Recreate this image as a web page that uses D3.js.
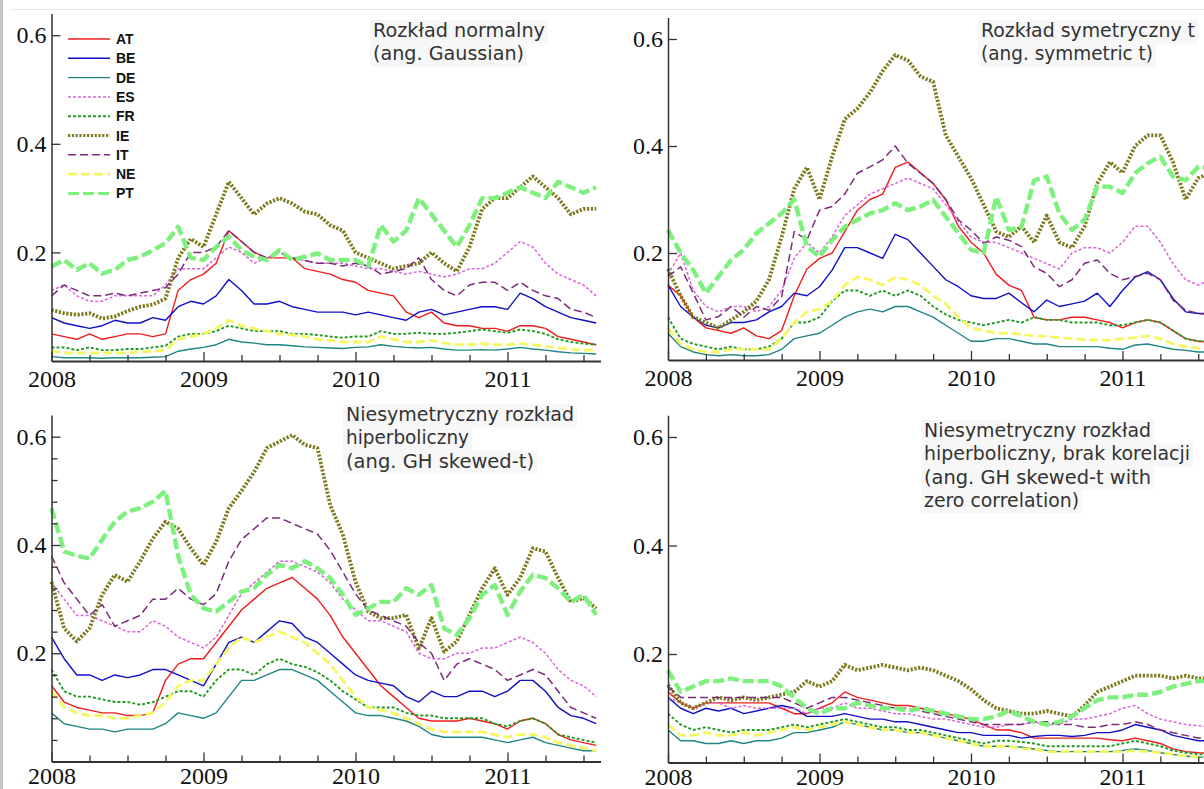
<!DOCTYPE html>
<html>
<head>
<meta charset="utf-8">
<script src="https://cdn.jsdelivr.net/npm/d3@7"></script>
<style>
  body { margin: 0; background: #fff; }
  svg { display: block; }
</style>
</head>
<body>
<svg id="chart" width="1204" height="789"></svg>
<script>
// Country codes in legend order
const countries = ["AT", "BE", "DE", "ES", "FR", "IE", "IT", "NE", "PT"];
const yearTicks = [2008, 2009, 2010, 2011];
const quarterTicks = [2008.25, 2008.5, 2008.75, 2009.25, 2009.5, 2009.75, 2010.25, 2010.5, 2010.75, 2011.25, 2011.5, 2011.75];
const valueTicks = [0.2, 0.4, 0.6];
const minorValueTicks = [0.04, 0.08, 0.12, 0.16, 0.24, 0.28, 0.32, 0.36, 0.44, 0.48, 0.52, 0.56];
const startYear = 2008;   // monthly observations, Jan 2008 – Aug 2011

// ---- Gaussian ----
const gaussAT = [.05,.045,.04,.05,.04,.045,.05,.05,.045,.05,.13,.15, .16,.18,.24,.22,.2,.19,.19,.19,.17,.165,.16,.15, .145,.13,.125,.12,.09,.08,.09,.07,.065,.065,.06,.06, .055,.065,.065,.06,.045,.04,.035,.03];
const gaussBE = [.08,.07,.065,.06,.065,.075,.07,.07,.08,.075,.1,.11, .105,.12,.15,.13,.105,.105,.11,.1,.095,.09,.09,.09, .085,.09,.085,.08,.075,.09,.095,.085,.09,.095,.1,.1, .095,.125,.115,.1,.09,.08,.075,.07];
const gaussDE = [.008,.006,.006,.006,.005,.006,.006,.006,.007,.008,.018,.022, .025,.03,.04,.035,.033,.03,.03,.028,.026,.025,.024,.023, .025,.026,.03,.027,.025,.024,.025,.022,.02,.02,.021,.02, .022,.025,.022,.02,.017,.015,.014,.013];
const gaussES = [.13,.14,.12,.11,.11,.12,.12,.12,.12,.14,.17,.17, .17,.19,.21,.2,.18,.19,.2,.19,.185,.18,.18,.18, .175,.17,.17,.165,.16,.165,.16,.155,.16,.17,.17,.18, .2,.22,.21,.18,.16,.15,.14,.12];
const gaussFR = [.025,.025,.02,.025,.02,.02,.022,.022,.025,.028,.045,.05, .05,.055,.065,.06,.055,.055,.055,.05,.05,.048,.045,.043, .045,.045,.055,.05,.05,.052,.05,.05,.052,.055,.058,.055, .052,.058,.055,.05,.04,.035,.032,.03];
const gaussIE = [.094,.088,.085,.088,.078,.082,.092,.1,.104,.115,.19,.225, .21,.27,.33,.3,.27,.29,.3,.29,.275,.27,.25,.24, .2,.19,.18,.17,.175,.18,.2,.18,.165,.21,.28,.3, .3,.32,.34,.32,.3,.27,.28,.28];
const gaussIT = [.12,.14,.13,.12,.12,.125,.12,.125,.13,.135,.16,.2, .2,.21,.24,.22,.2,.19,.2,.19,.185,.18,.18,.175, .18,.175,.16,.165,.17,.19,.15,.13,.12,.14,.145,.145, .13,.145,.13,.12,.115,.095,.09,.08];
const gaussNE = [.018,.015,.015,.015,.015,.015,.015,.017,.018,.02,.04,.045, .05,.06,.075,.065,.06,.055,.05,.048,.045,.04,.038,.035, .035,.035,.045,.04,.035,.035,.038,.033,.03,.03,.032,.03, .03,.032,.03,.027,.024,.022,.02,.02];
const gaussPT = [.174,.186,.168,.18,.161,.168,.186,.192,.204,.217,.247,.19, .186,.21,.229,.204,.192,.186,.204,.186,.192,.198,.186,.186, .186,.174,.25,.22,.24,.3,.27,.24,.21,.25,.3,.3, .31,.32,.31,.3,.33,.32,.31,.32];

// ---- Symmetric t ----
const symAT = [.14,.12,.08,.06,.055,.05,.06,.045,.04,.055,.12,.17, .19,.2,.24,.28,.3,.31,.36,.37,.35,.33,.3,.25, .22,.2,.16,.14,.13,.08,.075,.075,.08,.08,.075,.07, .06,.07,.075,.07,.055,.04,.035,.033];
const symBE = [.14,.1,.08,.065,.06,.07,.07,.075,.09,.1,.125,.12, .137,.168,.21,.21,.2,.19,.235,.225,.2,.175,.15,.137, .12,.115,.115,.125,.107,.09,.112,.1,.105,.11,.125,.1, .13,.155,.165,.15,.115,.09,.087,.087];
const symDE = [.05,.025,.015,.01,.008,.01,.008,.008,.01,.02,.04,.045, .05,.065,.08,.09,.095,.09,.1,.1,.09,.08,.065,.05, .035,.035,.04,.04,.035,.03,.03,.025,.025,.025,.025,.022, .02,.028,.03,.025,.02,.018,.015,.015];
const symES = [.16,.2,.13,.1,.09,.1,.1,.09,.1,.13,.19,.22, .2,.23,.27,.29,.31,.32,.33,.34,.33,.32,.29,.26, .23,.22,.22,.21,.2,.19,.18,.17,.2,.21,.21,.2, .22,.25,.25,.22,.18,.15,.14,.15];
const symFR = [.08,.04,.03,.025,.02,.025,.02,.02,.025,.04,.07,.07, .08,.11,.13,.13,.12,.13,.12,.13,.12,.1,.085,.075, .07,.065,.07,.075,.07,.08,.075,.075,.07,.07,.07,.065, .065,.07,.075,.07,.055,.04,.035,.035];
const symIE = [.17,.12,.08,.07,.06,.075,.09,.11,.15,.23,.32,.36, .3,.38,.45,.47,.5,.54,.57,.56,.53,.52,.42,.38, .34,.29,.24,.23,.25,.22,.27,.22,.21,.25,.33,.37, .35,.4,.42,.42,.37,.3,.34,.35];
const symIT = [.156,.174,.125,.075,.081,.1,.08,.1,.093,.118,.24,.224, .28,.287,.31,.349,.361,.374,.4,.368,.349,.33,.3,.262, .243,.218,.23,.224,.212,.174,.162,.137,.15,.181,.187,.162, .15,.156,.162,.15,.112,.093,.087,.085];
const symNE = [.06,.03,.02,.015,.015,.02,.02,.02,.02,.04,.07,.09, .095,.11,.14,.155,.15,.14,.155,.15,.14,.12,.105,.08, .06,.055,.05,.05,.048,.045,.044,.042,.04,.038,.037,.037, .04,.042,.045,.04,.03,.025,.022,.02];
const symPT = [.243,.2,.168,.125,.156,.187,.206,.237,.255,.274,.3,.212, .193,.224,.249,.262,.274,.28,.293,.28,.287,.299,.268,.237, .206,.2,.305,.243,.249,.336,.343,.274,.243,.262,.324,.324, .312,.349,.368,.38,.343,.336,.361,.36];

// ---- GH skewed-t ----
const ghAT = [.14,.11,.1,.095,.09,.09,.085,.085,.09,.15,.18,.19, .19,.22,.25,.28,.3,.32,.33,.34,.32,.3,.27,.23, .2,.17,.14,.12,.1,.08,.075,.075,.075,.08,.075,.07, .06,.075,.08,.07,.05,.04,.035,.03];
const ghBE = [.23,.19,.16,.16,.15,.16,.155,.16,.17,.17,.16,.15, .14,.18,.22,.23,.22,.24,.26,.255,.23,.22,.2,.18, .16,.15,.145,.14,.12,.11,.13,.12,.12,.13,.13,.12, .13,.15,.15,.13,.1,.085,.08,.07];
const ghDE = [.09,.07,.065,.06,.06,.055,.06,.06,.06,.07,.09,.085, .08,.09,.12,.15,.15,.16,.17,.17,.16,.15,.13,.11, .09,.085,.085,.08,.075,.065,.05,.045,.045,.045,.045,.04, .035,.04,.045,.035,.03,.025,.02,.02];
const ghES = [.33,.3,.27,.27,.26,.25,.24,.24,.26,.25,.23,.22, .21,.23,.27,.31,.33,.35,.37,.37,.36,.35,.33,.3, .28,.26,.26,.25,.24,.2,.19,.19,.2,.2,.21,.21, .22,.23,.22,.2,.17,.15,.14,.12];
const ghFR = [.17,.13,.12,.12,.115,.11,.11,.105,.11,.12,.13,.13, .12,.15,.17,.17,.16,.18,.19,.18,.175,.165,.15,.13, .115,.1,.1,.1,.09,.085,.085,.08,.08,.08,.08,.07, .065,.075,.08,.07,.05,.045,.04,.035];
const ghIE = [.332,.246,.222,.246,.308,.345,.332,.37,.412,.443,.43,.394, .363,.406,.468,.5,.535,.579,.591,.603,.585,.579,.474,.419, .332,.277,.265,.265,.271,.209,.265,.203,.222,.271,.32,.357, .308,.339,.394,.388,.339,.295,.302,.283];
const ghIT = [.38,.33,.3,.27,.29,.25,.26,.27,.3,.3,.32,.3, .29,.31,.37,.41,.43,.45,.45,.44,.43,.42,.39,.35, .31,.28,.27,.26,.25,.22,.2,.15,.18,.19,.18,.17, .15,.16,.17,.16,.13,.1,.09,.08];
const ghNE = [.13,.1,.09,.085,.085,.08,.08,.085,.09,.11,.14,.15, .15,.18,.21,.23,.22,.23,.24,.23,.22,.2,.18,.15, .12,.1,.095,.09,.08,.07,.06,.055,.055,.055,.055,.05, .045,.05,.05,.045,.035,.03,.025,.02];
const ghPT = [.468,.388,.38,.375,.41,.443,.462,.468,.48,.5,.38,.308, .283,.277,.295,.314,.32,.345,.363,.357,.37,.357,.339,.308, .271,.283,.295,.295,.32,.308,.326,.246,.234,.265,.308,.326, .271,.314,.345,.339,.32,.295,.308,.271];

// ---- GH skewed-t, zero correlation ----
const zcAT = [.13,.11,.1,.11,.11,.11,.11,.11,.11,.1,.09,.09, .1,.11,.13,.12,.115,.11,.105,.105,.1,.095,.09,.085, .08,.07,.06,.06,.055,.045,.045,.045,.045,.045,.045,.042, .04,.045,.04,.035,.025,.02,.018,.017];
const zcBE = [.12,.1,.09,.1,.095,.1,.09,.095,.1,.105,.1,.085, .085,.085,.09,.085,.08,.08,.075,.075,.07,.065,.06,.055, .055,.05,.05,.05,.045,.048,.05,.05,.048,.05,.055,.055, .06,.07,.065,.06,.05,.045,.04,.04];
const zcDE = [.06,.04,.04,.035,.035,.04,.035,.04,.04,.045,.055,.055, .06,.065,.075,.07,.065,.06,.06,.055,.055,.05,.045,.04, .035,.03,.03,.03,.028,.025,.022,.02,.02,.02,.02,.02, .022,.025,.022,.018,.015,.012,.01,.01];
const zcES = [.12,.11,.1,.11,.11,.1,.105,.1,.1,.1,.1,.09, .1,.1,.11,.1,.1,.095,.09,.09,.085,.08,.08,.075, .07,.065,.065,.07,.07,.075,.07,.07,.08,.08,.085,.09, .1,.105,.09,.08,.075,.07,.068,.065];
const zcFR = [.09,.07,.06,.065,.06,.055,.06,.06,.06,.065,.07,.065, .07,.075,.08,.075,.07,.065,.065,.06,.06,.055,.05,.045, .04,.035,.04,.04,.038,.035,.03,.03,.03,.03,.03,.03, .035,.04,.035,.03,.022,.018,.015,.015];
const zcIE = [.143,.11,.1,.11,.12,.115,.12,.115,.12,.125,.13,.15, .14,.15,.18,.17,.175,.18,.175,.17,.175,.17,.16,.15, .135,.115,.1,.095,.09,.09,.095,.09,.085,.105,.13,.14, .15,.16,.16,.16,.155,.16,.155,.155];
const zcIT = [.14,.12,.12,.12,.12,.12,.12,.12,.12,.12,.11,.1, .11,.12,.12,.115,.11,.105,.1,.1,.095,.09,.085,.08, .075,.07,.07,.07,.07,.075,.075,.07,.07,.065,.065,.07, .07,.075,.07,.06,.055,.05,.045,.045];
const zcNE = [.07,.05,.05,.055,.05,.05,.055,.05,.055,.06,.065,.06, .065,.07,.075,.07,.065,.06,.06,.055,.055,.05,.045,.04, .035,.03,.03,.03,.025,.025,.02,.02,.02,.02,.02,.02, .02,.022,.02,.018,.015,.012,.01,.01];
const zcPT = [.17,.13,.14,.15,.15,.155,.15,.15,.15,.14,.12,.1, .09,.1,.1,.11,.105,.1,.1,.095,.1,.095,.09,.085, .08,.08,.085,.095,.085,.075,.07,.075,.085,.1,.115,.12, .12,.125,.125,.13,.14,.145,.15,.15];

// Titles of the four panels
const titleGauss = ["Rozkład normalny", "(ang. Gaussian)"];
const titleSym = ["Rozkład symetryczny t", "(ang. symmetric t)"];
const titleGH = ["Niesymetryczny rozkład", "hiperboliczny", "(ang. GH skewed-t)"];
const titleZC = ["Niesymetryczny rozkład", "hiperboliczny, brak korelacji", "(ang. GH skewed-t with", "zero correlation)"];

// Line appearance per country
const style = {
  AT: { color: "#f01c1c", width: 1.4, dash: null },
  BE: { color: "#1010c8", width: 1.4, dash: null },
  DE: { color: "#1f8585", width: 1.4, dash: null },
  ES: { color: "#d866d8", width: 1.5, dash: "3,2" },
  FR: { color: "#229a22", width: 1.9, dash: "3,2" },
  IE: { color: "#7e7a1e", width: 3.8, dash: "2.2,1.6" },
  IT: { color: "#7a2c7a", width: 1.5, dash: "8,4" },
  NE: { color: "#f6f660", width: 2.8, dash: "9,4" },
  PT: { color: "#7ef07e", width: 4.4, dash: "11,4" }
};

const months = d3.range(gaussAT.length).map(i => startYear + i / 12);

const panels = [
  { series: { AT: gaussAT, BE: gaussBE, DE: gaussDE, ES: gaussES, FR: gaussFR, IE: gaussIE, IT: gaussIT, NE: gaussNE, PT: gaussPT },
    title: titleGauss, tx: 373, ty: 37, tw: [172, 151], x0: 51.5, ppy: 152, y0: 361, ppu: 543, clip: [0, 601], legend: true, minor: false, pad: 9 },
  { series: { AT: symAT, BE: symBE, DE: symDE, ES: symES, FR: symFR, IE: symIE, IT: symIT, NE: symNE, PT: symPT },
    title: titleSym, tx: 981, ty: 37, tw: [214, 172], x0: 668, ppy: 151.5, y0: 360, ppu: 535, clip: [604, 1204], legend: false, minor: false, pad: 9 },
  { series: { AT: ghAT, BE: ghBE, DE: ghDE, ES: ghES, FR: ghFR, IE: ghIE, IT: ghIT, NE: ghNE, PT: ghPT },
    title: titleGH, tx: 346, ty: 421, tw: [228, 123, 188], x0: 51.5, ppy: 152, y0: 761.6, ppu: 541.5, clip: [0, 601], legend: false, minor: true, pad: 5 },
  { series: { AT: zcAT, BE: zcBE, DE: zcDE, ES: zcES, FR: zcFR, IE: zcIE, IT: zcIT, NE: zcNE, PT: zcPT },
    title: titleZC, tx: 924, ty: 437, tw: [227, 266, 227, 155], x0: 668, ppy: 151.5, y0: 762.5, ppu: 542.5, clip: [604, 1204], legend: false, minor: false, pad: 5 }
];

const svg = d3.select("#chart");
const defs = svg.append("defs");

// page frame: grey strip on the left, faint rule along the top
svg.append("rect").attr("x", 0).attr("y", 0).attr("width", 3).attr("height", 789).attr("fill", "#c4c4c4");
svg.append("line").attr("x1", 10).attr("x2", 1204).attr("y1", 9.5).attr("y2", 9.5)
  .attr("stroke", "#e8e8e8").attr("stroke-width", 1);

const axisColor = "#333";
const lineHeight = 23.3;

panels.forEach((p, i) => {
  defs.append("clipPath").attr("id", "clip" + i)
    .append("rect").attr("x", p.clip[0]).attr("y", 0)
    .attr("width", p.clip[1] - p.clip[0]).attr("height", 789);

  const g = svg.append("g").attr("clip-path", `url(#clip${i})`);

  const x = d3.scaleLinear().domain([2008, 2012]).range([p.x0, p.x0 + 4 * p.ppy]);
  const y = d3.scaleLinear().domain([0, 0.64]).range([p.y0, p.y0 - 0.64 * p.ppu]);

  // title block
  const tg = g.append("g");
  p.title.forEach((t, k) => {
    tg.append("rect")
      .attr("x", p.tx - 3).attr("y", p.ty + k * lineHeight - 17)
      .attr("width", p.tw[k] + 6).attr("height", lineHeight)
      .attr("fill", "#f7f7f7");
  });
  p.title.forEach((t, k) => {
    tg.append("text")
      .attr("x", p.tx).attr("y", p.ty + k * lineHeight)
      .attr("textLength", p.tw[k]).attr("lengthAdjust", "spacingAndGlyphs")
      .attr("font-family", "'DejaVu Sans', 'Open Sans', sans-serif")
      .attr("font-size", 19)
      .attr("fill", "#333")
      .text(t);
  });

  // series
  const line = d3.line()
    .x((d, j) => x(months[j]))
    .y(d => y(d));

  countries.forEach(c => {
    const s = style[c];
    g.append("path")
      .datum(p.series[c])
      .attr("d", line)
      .attr("fill", "none")
      .attr("stroke", s.color)
      .attr("stroke-width", s.width)
      .attr("stroke-dasharray", s.dash)
      .attr("stroke-linejoin", "round");
  });

  // x axis with yearly labels and quarterly minor ticks
  const xAxis = g.append("g").attr("transform", `translate(0,${p.y0})`)
    .call(d3.axisBottom(x).tickValues(yearTicks).tickFormat(d3.format("d"))
      .tickSizeInner(-9).tickSizeOuter(0).tickPadding(p.pad));
  g.append("g").attr("transform", `translate(0,${p.y0})`)
    .call(d3.axisBottom(x).tickValues(quarterTicks).tickFormat("")
      .tickSizeInner(-6).tickSizeOuter(0))
    .call(a => a.select(".domain").remove());
  xAxis.select(".domain").attr("stroke", axisColor).attr("stroke-width", 2);

  // y axis with inward ticks
  const yAxis = g.append("g").attr("transform", `translate(${p.x0},0)`)
    .call(d3.axisLeft(y).tickValues(valueTicks).tickFormat(d3.format(".1f"))
      .tickSizeInner(-9).tickSizeOuter(0).tickPadding(5));
  yAxis.select(".domain").attr("stroke", axisColor).attr("stroke-width", 1.5);
  if (p.minor) {
    g.append("g").attr("transform", `translate(${p.x0},0)`)
      .call(d3.axisLeft(y).tickValues(minorValueTicks).tickFormat("")
        .tickSizeInner(-6).tickSizeOuter(0))
      .call(a => a.select(".domain").remove());
  }

  g.selectAll(".tick line").attr("stroke", axisColor).attr("stroke-width", 1.3);
  g.selectAll(".tick text")
    .attr("font-family", "'Liberation Serif', 'Times New Roman', serif")
    .attr("font-size", 24)
    .attr("fill", "#111");

  // legend
  if (p.legend) {
    const lg = g.append("g");
    countries.forEach((c, k) => {
      const s = style[c];
      const yy = 39 + k * 19.3;
      lg.append("line")
        .attr("x1", 68).attr("x2", 110).attr("y1", yy).attr("y2", yy)
        .attr("stroke", s.color)
        .attr("stroke-width", Math.min(s.width, 3))
        .attr("stroke-dasharray", s.dash);
      lg.append("text")
        .attr("x", 116).attr("y", yy + 5)
        .attr("font-family", "'Liberation Sans Narrow', 'Liberation Sans', Arial, sans-serif")
        .attr("font-weight", "bold")
        .attr("font-size", 14)
        .attr("fill", "#111")
        .text(c);
    });
  }
});
</script>
</body>
</html>
